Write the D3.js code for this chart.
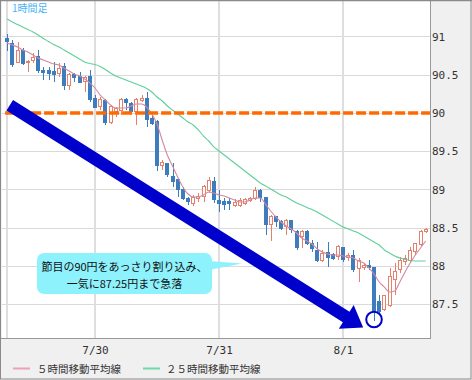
<!DOCTYPE html>
<html><head><meta charset="utf-8">
<script src="https://cdn.jsdelivr.net/npm/d3@7"></script>
<style>html,body{margin:0;padding:0;background:#f0f0f0;} svg{display:block;}</style>
</head><body>
<svg id="c" width="472" height="380"></svg>
<script>
// ---- data (hourly USD/JPY candles) ----
const opens  = [90.976,90.911,90.658,90.814,90.658,90.680,90.736,90.562,90.553,90.540,
                90.510,90.605,90.366,90.497,90.475,90.409,90.475,90.192,90.082,90.161,
                89.873,90.017,90.039,90.179,90.127,90.017,90.161,90.192,89.931,89.886,
                89.320,89.342,89.167,89.133,89.003,88.885,88.820,88.885,88.906,88.993,
                89.102,88.850,88.841,88.841,88.797,88.797,88.820,88.854,88.885,88.993,
                88.898,88.536,88.644,88.579,88.514,88.592,88.448,88.383,88.448,88.297,
                88.209,88.078,88.174,88.144,88.122,88.244,88.114,88.131,87.970,87.983,
                88.013,87.983,87.533,87.425,87.490,87.817,87.948,88.056,88.078,88.187,
                88.275,88.448];
const highs  = [91.033,90.954,90.932,90.850,90.693,90.780,90.824,90.597,90.605,90.667,
                90.650,90.650,90.519,90.527,90.540,90.484,90.562,90.235,90.213,90.179,
                90.105,90.082,90.192,90.192,90.148,90.192,90.235,90.278,89.974,89.908,
                89.386,89.350,89.350,89.146,89.037,88.906,88.928,88.950,89.059,89.167,
                89.167,88.993,88.885,88.885,88.876,88.885,88.893,88.906,89.037,89.003,
                88.906,88.667,88.654,88.601,88.610,88.601,88.471,88.471,88.471,88.340,
                88.318,88.209,88.318,88.174,88.275,88.252,88.166,88.209,88.101,88.043,
                88.078,87.992,87.621,87.621,87.970,88.035,88.122,88.144,88.252,88.305,
                88.471,88.493];
const lows   = [90.814,90.597,90.650,90.627,90.540,90.650,90.519,90.431,90.431,90.409,
                90.475,90.301,90.301,90.409,90.388,90.278,90.148,90.061,90.039,89.843,
                89.856,89.952,89.974,90.039,89.996,89.843,90.148,89.821,89.843,89.246,
                89.255,89.167,89.037,88.906,88.863,88.797,88.784,88.841,88.841,88.950,
                88.820,88.710,88.732,88.732,88.775,88.775,88.797,88.841,88.863,88.841,
                88.405,88.331,88.514,88.471,88.405,88.427,88.209,88.231,88.275,88.187,
                88.056,88.056,87.991,88.078,88.078,88.056,88.069,87.926,87.795,87.948,
                87.948,87.280,87.382,87.416,87.468,87.621,87.905,88.013,88.035,88.144,
                88.261,88.427];
const closes = [90.932,90.637,90.814,90.641,90.671,90.723,90.553,90.527,90.519,90.497,
                90.584,90.353,90.497,90.467,90.396,90.461,90.170,90.075,90.179,89.873,
                90.082,90.061,90.170,90.135,90.017,90.170,90.192,89.918,89.865,89.320,
                89.350,89.190,89.102,89.003,88.885,88.841,88.898,88.915,89.037,89.124,
                88.863,88.820,88.810,88.814,88.833,88.850,88.872,88.885,88.993,88.898,
                88.536,88.644,88.579,88.493,88.601,88.471,88.244,88.448,88.297,88.231,
                88.078,88.166,88.114,88.101,88.252,88.088,88.135,87.948,88.078,88.013,
                87.983,87.410,87.403,87.608,87.860,87.926,88.078,88.101,88.209,88.288,
                88.448,88.480];
const ma5    = [90.915,90.889,90.863,90.824,90.797,90.758,90.719,90.693,90.667,90.641,
                90.627,90.588,90.549,90.510,90.484,90.444,90.392,90.327,90.235,90.170,
                90.105,90.065,90.065,90.065,90.092,90.118,90.118,90.078,89.987,89.856,
                89.647,89.451,89.307,89.163,89.033,88.941,88.902,88.902,88.928,88.967,
                88.954,88.928,88.915,88.889,88.863,88.837,88.837,88.863,88.889,88.889,
                88.810,88.719,88.641,88.575,88.523,88.484,88.431,88.366,88.327,88.288,
                88.222,88.183,88.157,88.144,88.144,88.131,88.118,88.105,88.065,88.039,
                87.974,87.895,87.791,87.725,87.660,87.673,87.791,87.922,88.039,88.144,
                88.235,88.327];
const ma25   = [91.229,91.190,91.157,91.124,91.092,91.059,91.020,90.974,90.935,90.895,
                90.863,90.824,90.784,90.745,90.706,90.667,90.647,90.634,90.608,90.569,
                90.523,90.484,90.458,90.431,90.405,90.379,90.353,90.320,90.275,90.209,
                90.157,90.092,90.039,89.987,89.935,89.882,89.843,89.778,89.699,89.634,
                89.556,89.503,89.451,89.399,89.346,89.294,89.242,89.190,89.137,89.085,
                89.046,89.007,88.967,88.928,88.902,88.863,88.824,88.797,88.765,88.739,
                88.706,88.667,88.627,88.588,88.549,88.510,88.484,88.458,88.431,88.392,
                88.353,88.314,88.275,88.209,88.170,88.131,88.105,88.085,88.072,88.065,
                88.065,88.065];
const gridIdx     = [0, 17, 41, 65];
const xTickIdx    = [17, 41, 65];
const xTickLabels = ["7/30", "7/31", "8/1"];
const yTicks      = [87.5, 88, 88.5, 89, 89.5, 90, 90.5, 91];
const yTickLabels = ["87.5", "88", "88.5", "89", "89.5", "90", "90.5", "91"];
const refLevel    = 90;
const lowMarkIdx  = 71, lowMarkValue = 87.30;
const arrowFrom   = {i: 0.5, v: 90.10};
const arrowTo     = {i: 68.9, v: 87.195};
const timeframeLabel = "1時間足";
const calloutLines = ["節目の90円をあっさり割り込み、", "一気に87.25円まで急落"];
const legendLabels = ["５時間移動平均線", "２５時間移動平均線"];

// ---- layout ----
const W = 472, H = 380;
const plot = {l: 2, r: 430, t: 1, b: 338};
const svg = d3.select("#c");
const x = d3.scaleLinear().domain([-1, -1 + 428 / 5.167]).range([plot.l, plot.r]);
const y = d3.scaleLinear().domain([90 - 225 / 76.5, 90 + 112 / 76.5]).range([plot.b, plot.t]);

const COL_UP = "#e5806b", COL_DN = "#3d7dbd";
const COL_MA5 = "#d4899f", COL_MA25 = "#5fcf9b";
const CJK = "'Noto Sans CJK JP','Noto Sans',sans-serif";
const MONO = "'DejaVu Sans Mono','Liberation Mono',monospace";

svg.append("rect").attr("x",0).attr("y",0).attr("width",W).attr("height",H).attr("fill","#f0f0f0");
svg.append("rect").attr("x",plot.l).attr("y",plot.t).attr("width",plot.r-plot.l).attr("height",plot.b-plot.t).attr("fill","#fff");

const clip = svg.append("clipPath").attr("id","pc").append("rect")
  .attr("x",plot.l).attr("y",plot.t).attr("width",plot.r-plot.l).attr("height",plot.b-plot.t);

// grid
const g = svg.append("g").attr("shape-rendering","crispEdges");
g.selectAll("line.h").data(yTicks).join("line")
  .attr("x1",plot.l).attr("x2",plot.r)
  .attr("y1",d=>Math.round(y(d))+0.5).attr("y2",d=>Math.round(y(d))+0.5)
  .attr("stroke","#dadada").attr("stroke-width",1.5);
g.selectAll("line.v").data(gridIdx).join("line")
  .attr("y1",plot.t).attr("y2",plot.b)
  .attr("x1",d=>Math.round(x(d))).attr("x2",d=>Math.round(x(d)))
  .attr("stroke","#dedede").attr("stroke-width",2);

const pg = svg.append("g").attr("clip-path","url(#pc)");

// candles
const data = opens.map((o,i)=>({i, o, h: highs[i], l: lows[i], c: closes[i]}));
const cg = pg.append("g").attr("shape-rendering","crispEdges");
const cand = cg.selectAll("g").data(data).join("g");
cand.append("line")
  .attr("x1",d=>Math.round(x(d.i))+0.5).attr("x2",d=>Math.round(x(d.i))+0.5)
  .attr("y1",d=>y(d.h)).attr("y2",d=>y(d.l))
  .attr("stroke",d=>d.c>=d.o?COL_UP:COL_DN).attr("stroke-width",1);
cand.append("rect")
  .attr("x",d=>d.c>=d.o?Math.round(x(d.i))-1.5:Math.round(x(d.i))-1.5)
  .attr("width",4-1)
  .attr("y",d=>y(Math.max(d.o,d.c)))
  .attr("height",d=>Math.max(1,Math.abs(y(d.o)-y(d.c))))
  .attr("fill",d=>d.c>=d.o?"#fff":COL_DN)
  .attr("stroke",d=>d.c>=d.o?COL_UP:COL_DN).attr("stroke-width",1);

// moving averages
const line = d3.line().x((d,i)=>x(i)).y(d=>y(d)).curve(d3.curveMonotoneX);
pg.append("path").attr("d",line(ma25)).attr("fill","none").attr("stroke",COL_MA25).attr("stroke-width",1.1);
pg.append("path").attr("d",line(ma5)).attr("fill","none").attr("stroke",COL_MA5).attr("stroke-width",1.1);

// reference line at 90
pg.append("line").attr("x1",x(-0.4)).attr("x2",plot.r)
  .attr("y1",y(refLevel)).attr("y2",y(refLevel))
  .attr("stroke","#ff6a00").attr("stroke-width",3.5).attr("stroke-dasharray","10,3");

// borders
svg.append("line").attr("x1",plot.r+0.5).attr("x2",plot.r+0.5).attr("y1",0).attr("y2",plot.b+1).attr("stroke","#999");
svg.append("line").attr("x1",0).attr("x2",plot.r+1).attr("y1",plot.b+0.5).attr("y2",plot.b+0.5).attr("stroke","#999");
svg.append("rect").attr("x",0.5).attr("y",0.5).attr("width",W-1.5).attr("height",H-1.5)
  .attr("fill","none").attr("stroke","#8a8a8a").attr("stroke-width",1);
svg.append("line").attr("x1",0).attr("x2",W).attr("y1",0.5).attr("y2",0.5).attr("stroke","#8a8a8a").attr("stroke-width",1.5);

// axes
const ya = svg.append("g").attr("transform",`translate(${plot.r},0)`)
  .call(d3.axisRight(y).tickValues(yTicks).tickFormat((d,i)=>yTickLabels[i]).tickSize(0).tickPadding(2));
ya.select(".domain").remove();
ya.selectAll("text").attr("font-family",MONO).attr("font-size",11).attr("fill","#333");

const xa = svg.append("g").attr("transform",`translate(0,${plot.b})`)
  .call(d3.axisBottom(x).tickValues(xTickIdx).tickFormat((d,i)=>xTickLabels[i]).tickSize(0).tickPadding(8));
xa.select(".domain").remove();
xa.selectAll("text").attr("font-family",MONO).attr("font-size",11).attr("fill","#333");

// timeframe label
svg.append("text").attr("x",12).attr("y",12).text(timeframeLabel)
  .attr("font-family",CJK).attr("font-size",10).attr("fill","#45b3f5");

// big arrow
(function(){
  const x0 = x(arrowFrom.i), y0 = y(arrowFrom.v), x1 = x(arrowTo.i), y1 = y(arrowTo.v);
  const dx = x1-x0, dy = y1-y0, len = Math.hypot(dx,dy);
  const ux = dx/len, uy = dy/len, nx = -uy, ny = ux;
  const headL = 20, headW = 14, shaftW = 6.2;
  const bx = x1-ux*headL, by = y1-uy*headL;
  const pts = [
    [x0+nx*shaftW, y0+ny*shaftW], [bx+nx*shaftW, by+ny*shaftW],
    [bx+nx*headW, by+ny*headW], [x1, y1],
    [bx-nx*headW, by-ny*headW], [bx-nx*shaftW, by-ny*shaftW],
    [x0-nx*shaftW, y0-ny*shaftW]];
  svg.append("polygon").attr("points",pts.map(p=>p.join(",")).join(" ")).attr("fill","#0000cc");
})();

// circle on the low
svg.append("circle").attr("cx",x(lowMarkIdx)).attr("cy",y(lowMarkValue)).attr("r",7.8)
  .attr("fill","none").attr("stroke","#0000cc").attr("stroke-width",2);

// callout
const co = svg.append("g");
co.append("path").attr("d","M209,261 L242,263.5 L209,270 Z").attr("fill","#8ef2fd");
co.append("rect").attr("x",37).attr("y",253).attr("width",175).attr("height",41).attr("rx",7)
  .attr("fill","#8ef2fd");
co.selectAll("text").data(calloutLines).join("text")
  .attr("x",124.5).attr("y",(d,i)=>271+i*16.5).attr("text-anchor","middle")
  .attr("font-family",CJK).attr("font-size",11).attr("fill","#111").text(d=>d);

// legend
const lg = svg.append("g");
lg.append("line").attr("x1",13).attr("x2",30).attr("y1",368.5).attr("y2",368.5).attr("stroke","#e8a3bb").attr("stroke-width",2);
lg.append("text").attr("x",37).attr("y",372.5).text(legendLabels[0])
  .attr("font-family",CJK).attr("font-size",10.5).attr("fill","#333");
lg.append("line").attr("x1",143).attr("x2",160).attr("y1",368.5).attr("y2",368.5).attr("stroke","#74d6aa").attr("stroke-width",2);
lg.append("text").attr("x",166).attr("y",372.5).text(legendLabels[1])
  .attr("font-family",CJK).attr("font-size",10.5).attr("fill","#333");
</script>
</body></html>
